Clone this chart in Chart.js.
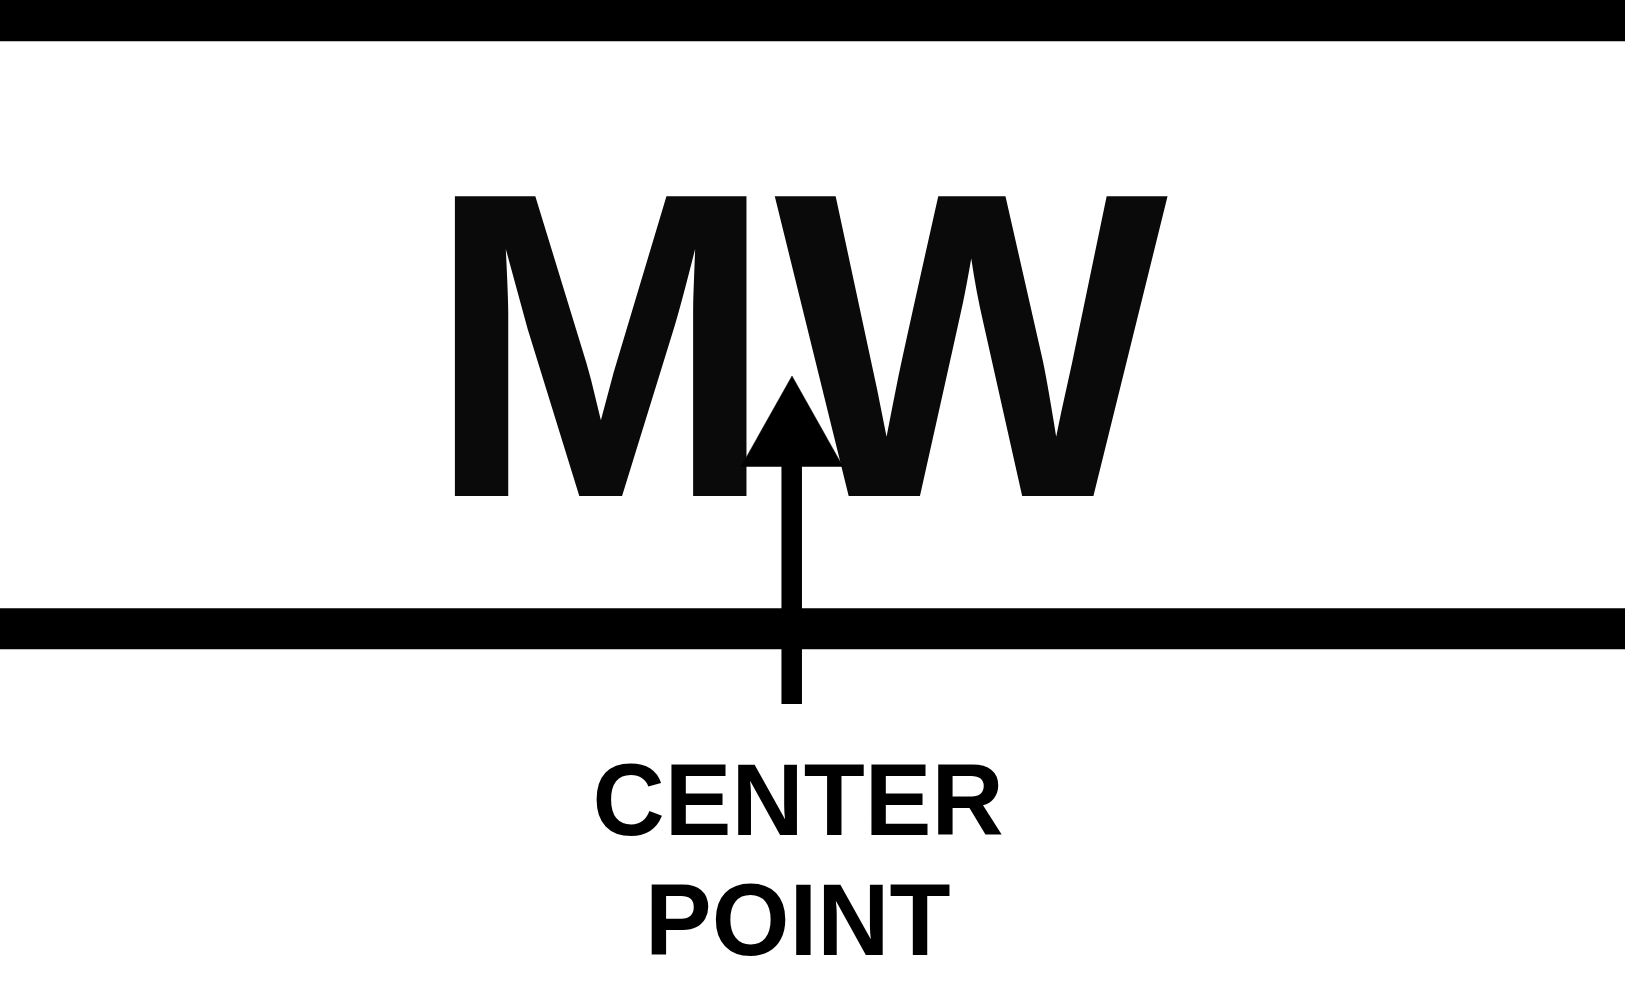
<!DOCTYPE html>
<html>
<head>
<meta charset="utf-8">
<script src="https://cdn.jsdelivr.net/npm/chart.js@4.4.1/dist/chart.umd.min.js"></script>
<style>
  html, body { margin: 0; padding: 0; background: #ffffff; }
  #wrap { position: relative; width: 1625px; height: 993px; }
</style>
</head>
<body>
<div id="wrap"><canvas id="c"></canvas></div>
<script>
// ---- data (in the symbol's own coordinate units) ----
const railCenters = [20.65, 628.8];          // centre lines of the two rails
const railSpan = [0, 1625];                   // rails run full width
const arrowHeadX = [741, 792, 843];           // arrowhead base-left, apex, base-right
const arrowHeadY = [466.7, 376, 466.7];
const arrowShaftX = [791.7, 791.7];
const arrowShaftY = [466, 704];
const mainLabel = ['MW'];
const subLabels = ['CENTER', 'POINT'];

const railData = railCenters.map(y => railSpan.map(x => ({ x, y })));
const headData = arrowHeadX.map((x, i) => ({ x, y: arrowHeadY[i] }));
const shaftData = arrowShaftX.map((x, i) => ({ x, y: arrowShaftY[i] }));

function drawText(ctx, text, px, py, font, color, sx, sy) {
  ctx.save();
  ctx.translate(px, py);
  ctx.scale(sx, sy);
  ctx.font = font;
  ctx.fillStyle = color;
  ctx.textAlign = 'left';
  ctx.textBaseline = 'alphabetic';
  ctx.fillText(text, 0, 0);
  ctx.restore();
}

const textPlugin = {
  id: 'symbolText',
  beforeDatasetsDraw(chart) {
    const { ctx, scales: { x, y } } = chart;
    const big = 'bold 417px "Liberation Sans", Arial, sans-serif';
    const small = 'bold 99px "Liberation Sans", Arial, sans-serif';
    drawText(ctx, mainLabel[0], x.getPixelForValue(427), y.getPixelForValue(496), big, '#0a0a0a', 1.0, 1.045);
    drawText(ctx, subLabels[0], x.getPixelForValue(592.6), y.getPixelForValue(834.5), small, '#000000', 1.01, 1.03);
    drawText(ctx, subLabels[1], x.getPixelForValue(645), y.getPixelForValue(955), small, '#000000', 1.01, 1.03);
  }
};

const lineBase = { showLine: true, pointRadius: 0, borderColor: '#000000', borderCapStyle: 'butt', tension: 0 };

new Chart(document.getElementById('c'), {
  type: 'scatter',
  data: {
    datasets: [
      Object.assign({}, lineBase, { label: 'rail top', data: railData[0], borderWidth: 41.3 }),
      Object.assign({}, lineBase, { label: 'rail bottom', data: railData[1], borderWidth: 41 }),
      Object.assign({}, lineBase, { label: 'arrow shaft', data: shaftData, borderWidth: 20.5 }),
      Object.assign({}, lineBase, { label: 'arrow head', data: headData, borderWidth: 0.5,
        fill: { value: arrowHeadY[0] }, backgroundColor: '#000000' })
    ]
  },
  options: {
    responsive: true,
    maintainAspectRatio: false,
    animation: false,
    events: [],
    layout: { padding: 0 },
    plugins: { legend: { display: false }, tooltip: { enabled: false }, title: { display: false } },
    scales: {
      x: { type: 'linear', min: 0, max: 1625, display: false },
      y: { type: 'linear', min: 0, max: 993, reverse: true, display: false }
    }
  },
  plugins: [textPlugin]
});
</script>
</body>
</html>
